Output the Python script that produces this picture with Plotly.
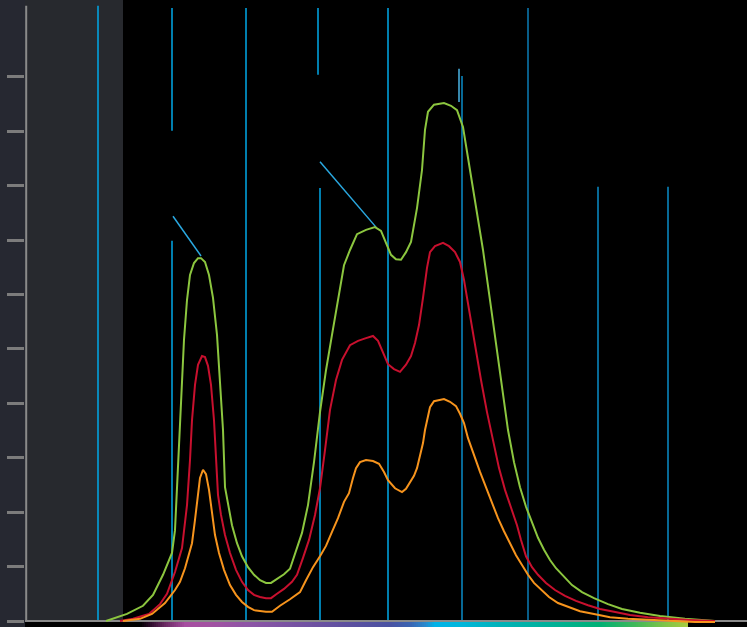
import numpy as np
import plotly.graph_objects as go

# ---------------- data ----------------
green_x = [363, 373.5, 381.5, 386.5, 391.5, 396, 397.5, 398.5, 400, 402, 403.5, 405, 407, 409, 410.5,
           412.5, 414.5, 416.5, 418.5, 420, 421.5, 422.5, 424, 426, 428.5, 431, 434, 437, 440, 443,
           445.5, 448.5, 452, 455, 458, 461, 464, 467, 470, 473, 476, 479, 482, 485, 488.5, 493,
           497.5, 500.5, 503.5, 505.5, 508, 510.5, 513, 515.5, 518.5, 521, 522.5, 524, 527, 532,
           535.5, 538.5, 541.5, 543, 546.5, 551.5, 555, 558, 561, 564, 567, 570, 573, 576, 579,
           582, 585, 588, 591.5, 596, 601, 607, 614, 621, 630, 640, 652.5, 667.5]
green_y = [0, 1.3, 2.8, 4.8, 8.5, 12.5, 16.7, 24.6, 36.9, 51.7, 59.0, 63.6, 65.8, 66.7, 66.7,
           66.0, 63.6, 59.4, 52.6, 44.3, 35.1, 24.6, 21.3, 17.6, 14.3, 11.9, 9.9, 8.5, 7.5, 7.0,
           7.0, 7.7, 8.6, 9.6, 12.7, 16.2, 21.3, 29.2, 38.4, 46.1, 52.6, 59.0, 65.4, 68.2, 71.1, 71.9,
           72.4, 71.7, 69.1, 67.3, 66.5, 66.4, 67.8, 69.7, 75.9, 82.9, 90.3, 93.6, 94.9, 95.2,
           94.7, 93.9, 90.8, 87.5, 79.2, 68.2, 59.0, 50.7, 42.5, 35.1, 29.2, 24.6, 21.0, 18.0, 15.3,
           13.1, 11.2, 9.7, 8.3, 6.6, 5.3, 4.2, 3.1, 2.2, 1.5, 0.9, 0.4, 0]

red_x = [370, 376.5, 384.5, 390, 393.5, 397.5, 401, 403.5, 405, 406, 407.5, 409, 411, 412.5, 414,
         415.5, 417, 418, 419, 420.5, 422.5, 425, 428, 431, 434, 437, 440, 443, 445.5, 448.5, 452,
         456, 458.5, 461.5, 464.5, 467.5, 470, 472.5, 475, 478, 481, 485, 489, 493, 496.5, 499,
         501.5, 504, 507, 510, 513, 515.5, 517.5, 519.5, 521.5, 523.5, 525, 527.5, 531.5, 534.5,
         537.5, 540, 542, 544.5, 547.5, 550.5, 553.5, 556.5, 559.5, 562.5, 565.5, 568.5, 570.5,
         573, 576, 579, 583, 587.5, 592.5, 598, 604, 610, 617, 625, 634, 644, 655, 667.5]
red_y = [0, 0.4, 1.3, 3.1, 5.0, 9.0, 13.4, 21.3, 29.6, 36.9, 43.4, 47.1, 48.7, 48.5, 46.9,
         43.4, 36.9, 29.6, 23.2, 19.5, 15.8, 12.5, 9.4, 7.2, 5.7, 4.8, 4.4, 4.2, 4.2, 5.0, 5.9,
         7.2, 8.5, 11.6, 14.9, 19.5, 24.4, 31.4, 38.8, 44.3, 48.0, 50.7, 51.5, 52.0, 52.4, 51.5,
         49.4, 47.2, 46.3, 45.8, 47.1, 48.7, 51.1, 54.4, 59.4, 64.9, 67.8, 68.9, 69.5, 68.9,
         67.8, 66.0, 62.7, 57.2, 50.7, 44.3, 38.4, 32.9, 28.1, 24.1, 20.8, 17.6, 14.9,
         11.9, 9.9, 8.5, 7.0, 5.7, 4.6, 3.7, 2.9, 2.2, 1.7, 1.1, 0.7, 0.4, 0.2, 0]

orange_x = [371.5, 380, 386, 392.5, 397.5, 400, 402.5, 404.5, 406, 407.5, 408.5, 410, 411.5, 413,
            414.5, 416, 417.5, 419.5, 422, 425, 428, 431, 434, 437, 440, 443, 446, 450, 455, 460,
            463, 466.5, 470, 473, 476, 479, 482, 484.5, 486.5, 488, 490, 493, 496.5, 499.5, 502,
            504, 507.5, 511, 513, 515, 517, 518.5, 520, 521.5, 522.5, 523.5, 525, 527, 532, 535,
            538, 540, 542, 544, 546.5, 550, 553.5, 556.5, 559, 562, 565, 568, 571, 574, 577,
            580.5, 584.5, 589, 594, 600, 607, 615, 624, 635, 647.5, 657.5, 667.5]
orange_y = [0, 0.4, 1.3, 3.3, 5.7, 7.2, 9.7, 12.1, 14.3, 18.6, 21.7, 26.3, 27.8, 27.0,
            24.1, 19.5, 15.8, 12.5, 9.4, 6.6, 4.8, 3.5, 2.6, 2.0, 1.8, 1.7, 1.7, 2.8, 4.0, 5.3,
            7.5, 9.9, 11.9, 13.8, 16.4, 18.9, 21.9, 23.5, 26.3, 28.1, 29.2, 29.6, 29.4, 28.9, 27.4,
            25.9, 24.4, 23.7, 24.3, 25.4, 26.7, 28.1, 30.5, 32.7, 35.1, 36.9, 39.3, 40.4, 40.8, 40.3,
            39.5, 38.1, 36.4, 33.6, 30.9, 27.4, 24.1, 21.3, 18.9, 16.5, 14.3, 12.1, 10.3, 8.5, 7.0,
            5.7, 4.4, 3.3, 2.6, 1.8, 1.3, 0.7, 0.4, 0.2, 0, -0.2, -0.2]

# vertical marker lines: x, bottom, top, colour
vline_x = [359, 396, 396, 433, 469, 470, 504, 539.5, 541, 574, 609, 644]
vline_y0 = [0, 90.1, 0, 0, 100.4, 0, 0, 95.4, 0, 0, 0, 0]
vline_y1 = [113.1, 112.7, 69.9, 112.7, 112.7, 79.6, 112.7, 101.5, 100.2, 112.7, 79.8, 79.8]
vline_c = ["#00a8e8", "#00a8e8", "#00a8e8", "#00a8e8", "#00a8e8", "#00a8e8", "#00a8e8",
           "#4ab4e4", "#0a8cc8", "#0b7db6", "#0a8cc8", "#0a8cc8"]

# leader lines (from label to peak)
lead_x0 = [396.5, 470]
lead_y0 = [74.4, 84.4]
lead_x1 = [410.5, 498]
lead_y1 = [67.1, 72.4]

# spectrum bar stops (wavelength, colour)
spec_wl = [380, 385, 392.5, 402.5, 415, 435, 460, 485, 505, 515, 522.5, 527.5, 540, 560, 585,
           610, 627.5, 642.5, 654]
spec_col = ["#000000", "#2a0a28", "#6a2a62", "#a64ea0", "#a352a2", "#8c55a6", "#7452a2",
            "#5c50a0", "#4a52a2", "#3a64b2", "#2a88cc", "#00b2e8", "#00b6dc", "#00b2b8",
            "#00b098", "#00b074", "#40b85a", "#80c448", "#a8cc40"]

X_RANGE = [322.5, 683.5]
Y_RANGE = [-1.103, 114.15]
PANEL_END = 371.5

# ---------------- figure ----------------
fig = go.Figure()

# spectrum bar below axis
n = 274
edges = np.linspace(spec_wl[0], spec_wl[-1], n + 1)
centers = (edges[:-1] + edges[1:]) / 2
lo, hi = spec_wl[0], spec_wl[-1]
cscale = [[(w - lo) / (hi - lo), c] for w, c in zip(spec_wl, spec_col)]
fig.add_trace(go.Heatmap(x=edges, y=[-1.2, -0.184], z=[centers], zmin=lo, zmax=hi,
                         colorscale=cscale, showscale=False, hoverinfo="skip"))

for xs, ys, col in [(green_x, green_y, "#8cc63f"), (red_x, red_y, "#c8102e"),
                    (orange_x, orange_y, "#f7941d")]:
    fig.add_trace(go.Scatter(x=xs, y=ys, mode="lines", line=dict(color=col, width=2),
                             hoverinfo="skip", showlegend=False))

shapes = []
# dark panel
shapes.append(dict(type="rect", xref="x", yref="y", x0=X_RANGE[0], x1=PANEL_END, y0=0,
                   y1=Y_RANGE[1], fillcolor="#27292e", line=dict(width=0), layer="below"))
for x, y0, y1, c in zip(vline_x, vline_y0, vline_y1, vline_c):
    shapes.append(dict(type="line", xref="x", yref="y", x0=x, x1=x, y0=y0, y1=y1,
                       line=dict(color=c, width=1.5), layer="below"))
for x0, y0, x1, y1 in zip(lead_x0, lead_y0, lead_x1, lead_y1):
    shapes.append(dict(type="line", xref="x", yref="y", x0=x0, x1=x1, y0=y0, y1=y1,
                       line=dict(color="#2aa8e0", width=1.5), layer="below"))
# y axis line
shapes.append(dict(type="line", xref="x", yref="y", x0=X_RANGE[0] + 0.6, x1=X_RANGE[0] + 0.6,
                   y0=0, y1=113.1, line=dict(color="#8a8a8a", width=2)))

fig.update_layout(
    width=747, height=627,
    margin=dict(l=25, r=0, t=0, b=0),
    paper_bgcolor="#262831",
    plot_bgcolor="#000000",
    showlegend=False,
    shapes=shapes,
    xaxis=dict(range=X_RANGE, showgrid=False, zeroline=False, showticklabels=False,
               ticks="", showline=False, fixedrange=True),
    yaxis=dict(range=Y_RANGE, showgrid=False, zeroline=True, zerolinecolor="#8a8a8a",
               zerolinewidth=2, showticklabels=False, ticks="outside", ticklen=17,
               tickwidth=3, tickcolor="#7c7c7c", tickvals=list(range(0, 101, 10)),
               showline=False, fixedrange=True),
)

fig.write_html("out.html", config={"displayModeBar": False},
               post_script="document.body.style.margin='0';document.body.style.overflow='hidden';")
